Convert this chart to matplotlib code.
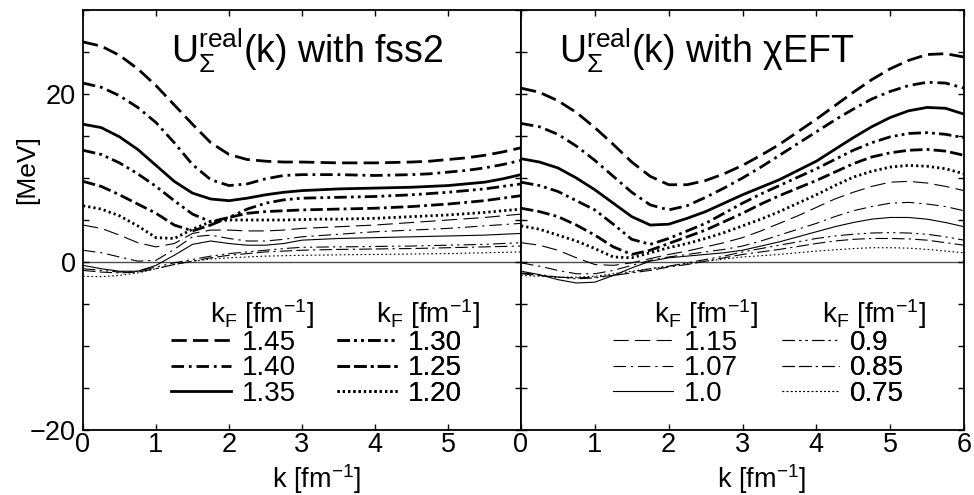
import matplotlib
matplotlib.use("Agg")
import matplotlib.pyplot as plt
from matplotlib.lines import Line2D

plt.rcParams['font.family'] = ['Liberation Sans', 'DejaVu Sans']
plt.rcParams['mathtext.fontset'] = 'custom'
plt.rcParams['mathtext.rm'] = 'Liberation Sans'
plt.rcParams['mathtext.it'] = 'Liberation Sans:italic'
plt.rcParams['mathtext.bf'] = 'Liberation Sans:bold'
plt.rcParams['mathtext.sf'] = 'Liberation Sans'
plt.rcParams['lines.scale_dashes'] = False

# ---------------- data ----------------
k = [0, 0.25, 0.5, 0.75, 1.0, 1.25, 1.5, 1.75, 2.0, 2.25, 2.5, 2.75, 3.0,
     3.25, 3.5, 3.75, 4.0, 4.25, 4.5, 4.75, 5.0, 5.25, 5.5, 5.75, 6.0]

kf_labels = ['1.45', '1.40', '1.35', '1.30', '1.25', '1.20',
             '1.15', '1.07', '1.0', '0.9', '0.85', '0.75']

fss2_145 = [26.2, 25.7, 24.6, 23.0, 21.0, 18.7, 16.4, 14.2, 12.8, 12.2, 12.0, 11.9,
            11.9, 11.85, 11.8, 11.8, 11.8, 11.85, 11.9, 12.0, 12.2, 12.4, 12.7, 13.1, 13.6]
fss2_140 = [21.3, 20.8, 19.8, 18.4, 16.6, 14.2, 11.6, 9.8, 9.1, 9.3, 9.9, 10.3,
            10.4, 10.4, 10.4, 10.35, 10.3, 10.35, 10.4, 10.5, 10.7, 10.9, 11.2, 11.6, 12.1]
fss2_135 = [16.4, 16.0, 14.9, 13.4, 11.5, 9.6, 8.2, 7.5, 7.3, 7.6, 8.0, 8.3,
            8.5, 8.6, 8.7, 8.75, 8.8, 8.85, 8.9, 9.0, 9.1, 9.3, 9.5, 9.9, 10.4]
fss2_130 = [13.3, 12.8, 11.8, 10.5, 9.0, 7.3, 5.7, 4.8, 5.3, 6.3, 7.0, 7.4,
            7.6, 7.65, 7.7, 7.75, 7.8, 7.9, 8.0, 8.15, 8.3, 8.5, 8.7, 9.0, 9.3]
fss2_125 = [9.6, 9.0, 8.0, 6.9, 5.8, 4.4, 3.7, 4.4, 5.3, 5.8, 6.0, 6.1,
            6.2, 6.25, 6.3, 6.35, 6.4, 6.5, 6.6, 6.75, 6.9, 7.1, 7.3, 7.6, 7.9]
fss2_120 = [6.7, 6.3, 5.5, 4.3, 2.9, 2.8, 3.9, 4.8, 5.0, 5.0, 5.0, 5.0,
            5.05, 5.1, 5.1, 5.15, 5.2, 5.3, 5.4, 5.5, 5.6, 5.75, 5.9, 6.1, 6.3]
fss2_115 = [4.4, 4.0, 3.2, 2.3, 1.8, 2.2, 3.4, 3.8, 3.8, 3.7, 3.7, 3.8,
            4.0, 4.1, 4.2, 4.3, 4.4, 4.55, 4.7, 4.85, 5.0, 5.15, 5.3, 5.5, 5.7]
fss2_107 = [1.4, 1.1, 0.6, 0.1, 0.2, 1.5, 3.0, 3.2, 2.8, 2.5, 2.5, 2.7,
            3.0, 3.15, 3.3, 3.45, 3.6, 3.7, 3.8, 3.9, 4.0, 4.15, 4.3, 4.45, 4.6]
fss2_100 = [-0.4, -0.8, -1.1, -1.1, -0.4, 0.8, 2.1, 2.5, 2.2, 2.0, 2.0, 2.2,
            2.6, 2.7, 2.8, 2.85, 2.9, 2.95, 3.0, 3.05, 3.1, 3.15, 3.2, 3.3, 3.4]
fss2_090 = [-0.8, -1.0, -1.2, -1.1, -0.6, -0.1, 0.3, 0.7, 1.0, 1.2, 1.4, 1.6,
            1.75, 1.78, 1.8, 1.82, 1.85, 1.88, 1.9, 1.95, 2.0, 2.05, 2.1, 2.2, 2.3]
fss2_085 = [-1.0, -1.2, -1.3, -1.2, -0.8, -0.3, 0.1, 0.5, 0.8, 1.0, 1.2, 1.3,
            1.4, 1.45, 1.5, 1.52, 1.55, 1.58, 1.6, 1.65, 1.7, 1.75, 1.8, 1.85, 1.9]
fss2_075 = [-1.7, -1.75, -1.6, -1.3, -0.8, -0.3, 0.1, 0.35, 0.5, 0.6, 0.7, 0.75,
            0.8, 0.82, 0.85, 0.88, 0.9, 0.92, 0.95, 0.98, 1.0, 1.05, 1.1, 1.15, 1.2]

eft_145 = [20.7, 20.2, 19.2, 17.8, 16.0, 14.0, 11.9, 10.2, 9.2, 9.2, 9.7, 10.5,
           11.5, 12.7, 14.0, 15.5, 17.0, 18.6, 20.2, 21.7, 23.0, 24.0, 24.7, 24.8, 24.4]
eft_140 = [16.5, 16.1, 15.2, 13.8, 12.1, 10.2, 8.3, 6.8, 6.2, 6.7, 7.7, 8.8,
           10.0, 11.3, 12.7, 14.1, 15.5, 16.9, 18.2, 19.4, 20.3, 21.0, 21.4, 21.3, 20.7]
eft_135 = [12.3, 11.9, 11.2, 10.0, 8.6, 7.0, 5.4, 4.4, 4.5, 5.2, 6.0, 7.0,
           8.0, 8.9, 9.8, 10.9, 12.0, 13.4, 14.8, 16.1, 17.2, 18.0, 18.4, 18.3, 17.6]
eft_130 = [9.5, 9.1, 8.4, 7.3, 6.2, 4.5, 2.7, 2.1, 2.8, 3.7, 4.6, 5.8,
           7.0, 8.1, 9.1, 10.1, 11.1, 12.2, 13.3, 14.2, 14.9, 15.3, 15.4, 15.2, 14.8]
eft_125 = [6.4, 6.0, 5.4, 4.4, 3.2, 1.8, 0.9, 1.4, 2.2, 3.0, 3.8, 4.8,
           5.8, 6.9, 7.9, 8.8, 9.7, 10.7, 11.7, 12.5, 13.0, 13.3, 13.4, 13.2, 12.7]
eft_120 = [4.3, 3.9, 3.2, 2.5, 1.6, 0.6, 0.5, 1.1, 1.7, 2.2, 2.8, 3.5,
           4.3, 5.1, 6.0, 7.0, 8.0, 9.1, 10.1, 10.8, 11.3, 11.5, 11.4, 11.1, 10.5]
eft_115 = [2.3, 2.0, 1.4, 0.5, -0.3, -0.4, -0.1, 0.4, 0.9, 1.3, 1.8, 2.3,
           2.9, 3.7, 4.6, 5.5, 6.5, 7.5, 8.3, 9.0, 9.5, 9.6, 9.4, 9.0, 8.5]
eft_107 = [-0.1, -0.5, -1.0, -1.4, -1.4, -1.0, -0.4, 0.2, 0.6, 0.9, 1.2, 1.5,
           1.9, 2.5, 3.2, 3.9, 4.6, 5.4, 6.1, 6.6, 7.0, 7.1, 6.9, 6.6, 6.1]
eft_100 = [-1.1, -1.5, -2.1, -2.5, -2.4, -1.6, -0.7, 0.1, 0.5, 0.7, 0.9, 1.1,
           1.4, 1.9, 2.4, 3.0, 3.6, 4.2, 4.7, 5.1, 5.3, 5.3, 5.1, 4.7, 4.2]
eft_090 = [-1.3, -1.5, -1.8, -2.0, -1.9, -1.6, -1.2, -0.8, -0.5, -0.1, 0.3, 0.7,
           1.2, 1.6, 2.0, 2.4, 2.8, 3.1, 3.3, 3.45, 3.5, 3.45, 3.3, 3.0, 2.6]
eft_085 = [-1.4, -1.6, -1.8, -1.9, -1.8, -1.6, -1.3, -1.0, -0.6, -0.3, 0.1, 0.5,
           0.9, 1.2, 1.5, 1.85, 2.2, 2.5, 2.7, 2.8, 2.8, 2.75, 2.6, 2.3, 2.0]
eft_075 = [-1.6, -1.7, -1.8, -1.8, -1.7, -1.4, -1.1, -0.8, -0.5, -0.2, 0.1, 0.35,
           0.6, 0.75, 0.9, 1.1, 1.3, 1.45, 1.6, 1.7, 1.7, 1.65, 1.5, 1.3, 1.1]

fss2 = [fss2_145, fss2_140, fss2_135, fss2_130, fss2_125, fss2_120,
        fss2_115, fss2_107, fss2_100, fss2_090, fss2_085, fss2_075]
eft = [eft_145, eft_140, eft_135, eft_130, eft_125, eft_120,
       eft_115, eft_107, eft_100, eft_090, eft_085, eft_075]

# ---------------- styles ----------------
dash_styles = [
    (0, (11, 4.5)),                 # dashed
    (0, (9, 3.5, 2, 3.5)),          # dash-dot
    '-',                            # solid
    (0, (9, 3, 2, 3, 2, 3)),        # dash-dot-dot
    (0, (9, 3, 9, 3, 2, 3)),        # dash-dash-dot
    (0, (1.6, 2.2)),                # dotted
]
thin_dash_styles = [
    (0, (11, 4.5)),
    (0, (9, 3.5, 1.6, 3.5)),
    '-',
    (0, (9, 3, 1.6, 3, 1.6, 3)),
    (0, (9, 3, 9, 3, 1.6, 3)),
    (0, (1.2, 1.8)),
]
LW_THICK = 2.0
LW_THIN = 0.8

def style(i):
    if i < 6:
        return dict(ls=dash_styles[i], lw=LW_THICK)
    return dict(ls=thin_dash_styles[i - 6], lw=LW_THIN)

# ---------------- figure ----------------
fig = plt.figure(figsize=(9.74, 4.95), dpi=100)
W, H = 974.0, 495.0
ax1 = fig.add_axes([83 / W, (H - 430) / H, 438 / W, 420 / H])
ax2 = fig.add_axes([521 / W, (H - 430) / H, 443 / W, 420 / H])

TICK_FS = 19.5
yt = [-20, -15, -10, -5, 0, 5, 10, 15, 20, 25, 30]
ytl = ['\u221220', '', '', '', '0', '', '', '', '20', '', '']

panels = [(ax1, fss2, r'$\mathrm{U}_{\Sigma}^{\mathrm{real}}$(k) with fss2', 0.5126, 0.534),
          (ax2, eft, r'$\mathrm{U}_{\Sigma}^{\mathrm{real}}$(k) with χEFT', 0.419, 0.542)]
for ax, data, title, tx, lx in panels:
    ax.axhline(0, color='0.3', lw=1.0, zorder=1)
    for i, y in enumerate(data):
        ax.plot(k, y, color='black', solid_capstyle='butt', dash_capstyle='butt', **style(i))
    ax.set_xlim(0, 6)
    ax.set_ylim(-20, 30)
    ax.set_xticks(range(7))
    ax.set_yticks(yt)
    ax.tick_params(direction='in', length=4, width=1.0, top=True, right=True,
                   labelsize=TICK_FS)
    ax.tick_params(axis='x', pad=1.5)
    ax.tick_params(axis='y', pad=5)
    for s in ax.spines.values():
        s.set_linewidth(1.3)
    ax.set_xlabel(r'k [fm$^{-1}$]', fontsize=19.5)
    ax.xaxis.set_label_coords(lx, -0.076)
    ax.text(tx, 0.874, title, transform=ax.transAxes, fontsize=27, va='baseline', ha='center')

ax1.set_xticklabels(['0', '1', '2', '3', '4', '5', ''])
ax1.set_yticklabels(ytl)
ax2.set_yticklabels([''] * len(yt))
ax2.set_xticklabels(['0', '1', '2', '3', '4', '5', '6'])
ax1.set_ylabel('[MeV]', fontsize=19)
ax1.yaxis.set_label_coords(-0.10, 0.619)

# ---------------- legends ----------------
LEG_FS = 20
def make_leg(ax, idx, x, y, hl):
    handles = [Line2D([], [], color='black', **style(i)) for i in idx]
    labels = [kf_labels[i] for i in idx]
    leg = ax.legend(handles, labels, loc='upper left', bbox_to_anchor=(x, y),
                    frameon=False, fontsize=LEG_FS, handlelength=hl,
                    handletextpad=0.38, labelspacing=-0.02, borderpad=0,
                    borderaxespad=0)
    ax.add_artist(leg)
    return leg

make_leg(ax1, [0, 1, 2], 0.201, 0.238, 2.16)
make_leg(ax1, [3, 4, 5], 0.580, 0.238, 2.16)
make_leg(ax2, [6, 7, 8], 0.208, 0.238, 2.16)
make_leg(ax2, [9, 10, 11], 0.589, 0.238, 2.05)

kf_title = r'k$_{\mathrm{F}}$ [fm$^{-1}$]'
for ax, xs in [(ax1, (0.409, 0.788)), (ax2, (0.418, 0.797))]:
    for xx in xs:
        ax.text(xx, 0.275, kf_title, transform=ax.transAxes, fontsize=LEG_FS,
                ha='center', va='center')

fig.savefig('out.png', dpi=100)
